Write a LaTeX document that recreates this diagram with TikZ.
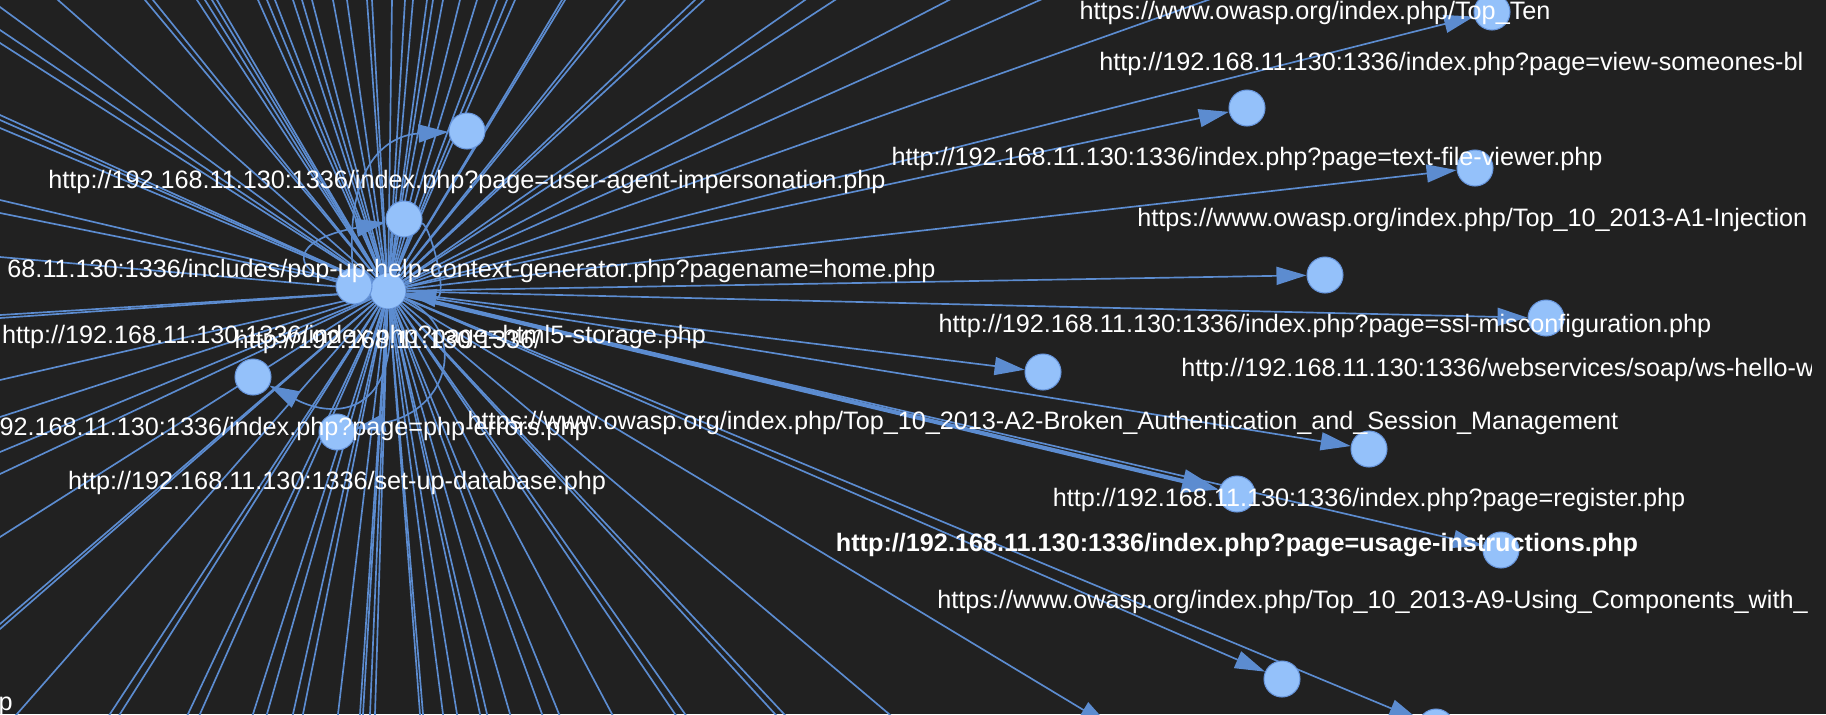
\documentclass[tikz,border=0pt]{standalone}
\usepackage{fontspec}
\setmainfont{Liberation Sans}
\usetikzlibrary{arrows.meta, positioning}

\definecolor{bgdark}{RGB}{33,33,33}
\definecolor{linkblue}{RGB}{92,140,208}
\definecolor{nodefill}{RGB}{148,193,250}
\definecolor{nodeedge}{RGB}{104,150,220}
\newcommand{\urlfont}{\fontsize{14.35}{17}\selectfont}
\pgfdeclarelayer{backdrop}
\pgfdeclarelayer{links}
\pgfsetlayers{backdrop,links,main}

\begin{document}
\begin{tikzpicture}[x=0.02cm, y=-0.02cm,
    >={Triangle[length=0.6cm, width=0.36cm]},
    page/.style={circle, fill=nodefill, draw=nodeedge, line width=0.6pt, minimum size=0.72cm, inner sep=0pt},
    link/.style={->, draw=linkblue, line width=0.95pt},
    heavy/.style={-{Triangle[length=0.74cm, width=0.46cm]}, draw=linkblue, line width=2.4pt},
    spoke/.style={draw=linkblue, line width=0.95pt, shorten >=-0.4cm},
    urltext/.style={text=white, font=\urlfont, inner sep=0pt},
    tag/.style={urltext, anchor=base, yshift=-1.16cm}]

    \useasboundingbox (0,0) rectangle (1826,714);
    \begin{pgfonlayer}{backdrop}
        \fill[bgdark] (0,0) rectangle (1826,714);
    \end{pgfonlayer}

    \node[page] (hub) at (388,291) {};
    \node[page] (html5) at (354,286) {};
    \node[page] (popup) at (404,219) {};
    \node[page] (useragent) at (467,131) {};
    \node[page] (phperrors) at (253,377) {};
    \node[page] (setupdb) at (337,432) {};
    \node[page] (blog) at (1492,12) {};
    \node[page] (textfile) at (1247,108) {};
    \node[page] (inject) at (1475,168) {};
    \node[page] (ssl) at (1325,275) {};
    \node[page] (soap) at (1546,318) {};
    \node[page] (broken) at (1043,372) {};
    \node[page] (register) at (1369,449) {};
    \node[page] (usage) at (1237,494) {};
    \node[page] (usingcomp) at (1501,550) {};
    \node[page] (lowa) at (1282,679) {};
    \node[page] (lowb) at (1436,727) {};
    \node[page] (lowc) at (1125,735) {};
    \coordinate (topten) at (1315,-38);

    \begin{pgfonlayer}{links}
    \foreach \x [count=\i] in {58,145,153,197,205,212,217,258,267,275,293,302,312,333,347,367,372,392,405,413,427,433,443,460,477,497,507,515,562,565,619,625,695,704,805,835,949,1040} {
        \coordinate (topout\i) at (\x,0);
        \path (hub) edge[spoke] (topout\i);
    }
    \foreach \y [count=\i] in {7,30,43,115,120,128,200,213,257,315,318,380,417,452,474,537,624,629} {
        \coordinate (leftout\i) at (0,\y);
        \path (hub) edge[spoke] (leftout\i);
    }
    \foreach \x [count=\i] in {17,110,120,188,200,253,267,293,303,338,360,363,370,375,420,423,443,457,480,487,510,542,559,612,675,685,775,784,889} {
        \coordinate (bottomout\i) at (\x,714);
        \path (hub) edge[spoke] (bottomout\i);
    }

    \path (hub) edge[spoke, shorten >=0pt] (topten);
    \foreach \t in {blog,textfile,inject,ssl,soap,broken,register,usingcomp,lowa,lowb,lowc}
        \path (hub) edge[link] (\t);
    \path (hub) edge[heavy] (usage);

    \draw[link] (html5) .. controls (345,160) and (390,135) .. (useragent);
    \draw[link] (html5) .. controls (290,270) and (290,240) .. (popup);
    \draw[link] (popup) .. controls (430,225) and (450,300) .. (hub);
    \draw[link] (hub) .. controls (398,415) and (335,420) .. (phperrors);
    \draw[link] (hub) .. controls (470,330) and (450,410) .. (setupdb);
    \end{pgfonlayer}

    \begin{scope}
    \clip (-50,-50) rectangle (1811,800);
    \node[tag] (hubtxt) at (hub) {http://192.168.11.130:1336/};
    \node[tag] (html5txt) at (html5) {http://192.168.11.130:1336/index.php?page=html5-storage.php};
    \node[tag] (useragenttxt) at (useragent) {http://192.168.11.130:1336/index.php?page=user-agent-impersonation.php};
    \node[urltext, anchor=base east] (popuptxt) at (936,277) {68.11.130:1336/includes/pop-up-help-context-generator.php?pagename=home.php};
    \node[urltext, anchor=base east] (phperrorstxt) at (589,435) {92.168.11.130:1336/index.php?page=php-errors.php};
    \node[tag] (setupdbtxt) at (setupdb) {http://192.168.11.130:1336/set-up-database.php};
    \node[tag] (toptentxt) at (topten) {https://www.owasp.org/index.php/Top\_Ten};
    \node[urltext, anchor=base west] (blogtxt) at (1099,70) {http://192.168.11.130:1336/index.php?page=view-someones-bl};
    \node[tag] (textfiletxt) at (textfile) {http://192.168.11.130:1336/index.php?page=text-file-viewer.php};
    \node[urltext, anchor=base west] (injecttxt) at (1137,226) {https://www.owasp.org/index.php/Top\_10\_2013-A1-Injection};
    \node[tag] (ssltxt) at (ssl) {http://192.168.11.130:1336/index.php?page=ssl-misconfiguration.php};
    \node[urltext, anchor=base west] (soaptxt) at (1181,376) {http://192.168.11.130:1336/webservices/soap/ws-hello-w};
    \node[tag] (brokentxt) at (broken) {https://www.owasp.org/index.php/Top\_10\_2013-A2-Broken\_Authentication\_and\_Session\_Management};
    \node[tag] (registertxt) at (register) {http://192.168.11.130:1336/index.php?page=register.php};
    \node[tag, font=\urlfont\bfseries] (usagetxt) at (usage) {http://192.168.11.130:1336/index.php?page=usage-instructions.php};
    \node[urltext, anchor=base west] (usingcomptxt) at (937,608) {https://www.owasp.org/index.php/Top\_10\_2013-A9-Using\_Components\_with\_};
    \node[urltext, anchor=base east] (offtxt) at (13,710) {p};
    \end{scope}

\end{tikzpicture}
\end{document}
